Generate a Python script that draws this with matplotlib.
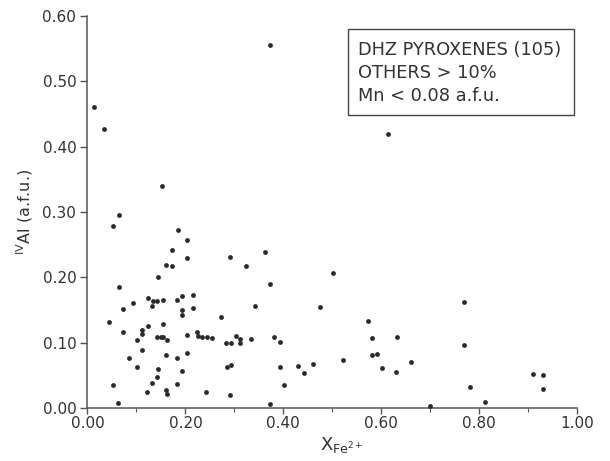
import matplotlib
matplotlib.use("Agg")
import matplotlib.pyplot as plt
from matplotlib.patches import Rectangle
from matplotlib.ticker import MultipleLocator

# X_Fe2+ and IV-Al (a.f.u.) for the DHZ pyroxene analyses
x_fe = [
    0.014, 0.034, 0.153, 0.064, 0.053, 0.184, 0.372, 0.614,
    0.204, 0.173, 0.204, 0.292, 0.363, 0.323, 0.161, 0.173,
    0.144, 0.372, 0.064, 0.342, 0.474, 0.073, 0.094, 0.124,
    0.133, 0.141, 0.155, 0.132, 0.182, 0.193, 0.215, 0.193,
    0.193, 0.215, 0.272, 0.043, 0.073, 0.124, 0.112, 0.112,
    0.102, 0.154, 0.141, 0.151, 0.155, 0.163, 0.204, 0.223,
    0.226, 0.234, 0.245, 0.254, 0.283, 0.293, 0.303, 0.311,
    0.312, 0.333, 0.382, 0.393, 0.112, 0.084, 0.161, 0.183,
    0.204, 0.102, 0.144, 0.142, 0.193, 0.284, 0.294, 0.393,
    0.431, 0.442, 0.461, 0.132, 0.182, 0.053, 0.402, 0.122,
    0.161, 0.163, 0.243, 0.292, 0.062, 0.372,
    0.502, 0.572, 0.581, 0.632, 0.581, 0.592, 0.522, 0.602,
    0.631, 0.661, 0.770, 0.770, 0.781, 0.700, 0.811, 0.910,
    0.930, 0.930,
]
al_iv = [
    0.461, 0.427, 0.340, 0.296, 0.278, 0.273, 0.556, 0.420,
    0.257, 0.242, 0.230, 0.231, 0.239, 0.218, 0.219, 0.217,
    0.201, 0.190, 0.185, 0.156, 0.154, 0.152, 0.161, 0.169,
    0.164, 0.164, 0.165, 0.156, 0.166, 0.172, 0.173, 0.150,
    0.142, 0.153, 0.139, 0.132, 0.116, 0.125, 0.120, 0.113,
    0.104, 0.128, 0.108, 0.108, 0.108, 0.104, 0.112, 0.116,
    0.110, 0.109, 0.108, 0.107, 0.100, 0.100, 0.110, 0.106,
    0.099, 0.105, 0.108, 0.101, 0.089, 0.077, 0.081, 0.077,
    0.084, 0.062, 0.059, 0.047, 0.056, 0.062, 0.066, 0.062,
    0.065, 0.053, 0.068, 0.039, 0.037, 0.035, 0.035, 0.024,
    0.028, 0.022, 0.025, 0.020, 0.007, 0.006,
    0.207, 0.133, 0.107, 0.109, 0.081, 0.083, 0.074, 0.061,
    0.055, 0.070, 0.162, 0.097, 0.032, 0.003, 0.009, 0.052,
    0.050, 0.029,
]

x_ticks = [0.0, 0.2, 0.4, 0.6, 0.8, 1.0]
x_tick_labels = ["0.00", "0.20", "0.40", "0.60", "0.80", "1.00"]
y_ticks = [0.0, 0.1, 0.2, 0.3, 0.4, 0.5, 0.6]
y_tick_labels = ["0.00", "0.10", "0.20", "0.30", "0.40", "0.50", "0.60"]

legend_lines = ["DHZ PYROXENES (105)", "OTHERS > 10%", "Mn < 0.08 a.f.u."]

ink = "#2a2a2a"
axis_col = "#555555"
text_col = "#333333"

plt.rcParams["font.family"] = ["DejaVu Sans"]

fig = plt.figure(figsize=(6.10, 4.61), dpi=100)
ax = fig.add_axes([0.1434, 0.115, 0.8026, 0.850])

ax.scatter(x_fe, al_iv, s=12, color=ink, linewidths=0, zorder=3, clip_on=False)

ax.set_xlim(0, 1.0)
ax.set_ylim(0, 0.6)
ax.set_xticks(x_ticks)
ax.set_xticklabels(x_tick_labels)
ax.set_yticks(y_ticks)
ax.set_yticklabels(y_tick_labels)
ax.xaxis.set_minor_locator(MultipleLocator(0.1))

for side in ("top", "right"):
    ax.spines[side].set_visible(False)
for side in ("left", "bottom"):
    ax.spines[side].set_color(axis_col)
    ax.spines[side].set_linewidth(1.1)

ax.tick_params(axis="y", which="major", direction="out", length=5,
               width=1.0, color=axis_col, labelsize=11, labelcolor=text_col,
               pad=3)
ax.tick_params(axis="x", which="major", direction="out", length=4,
               width=1.0, color=axis_col, labelsize=11, labelcolor=text_col,
               pad=1.5)
ax.tick_params(axis="x", which="minor", direction="out", length=3,
               width=0.8, color=axis_col)

ax.set_ylabel(r"$^{\mathregular{IV}}$Al (a.f.u.)", fontsize=11.5,
              color=text_col)
ax.yaxis.set_label_coords(-0.108, 0.5)
ax.set_xlabel(r"X$_{\mathregular{Fe}^{\mathregular{2+}}}$", fontsize=13,
              color=text_col)
ax.xaxis.set_label_coords(0.52, -0.068)

# framed note in the upper right
ax.add_patch(Rectangle((0.532, 0.747), 0.461, 0.220, transform=ax.transAxes,
                       facecolor="white", edgecolor="#444444", linewidth=1.0,
                       zorder=4, clip_on=False))
for line, yc in zip(legend_lines, [0.913, 0.855, 0.795]):
    ax.text(0.552, yc, line, transform=ax.transAxes, ha="left", va="center",
            fontsize=12.8, color=text_col, zorder=5)

fig.savefig("out.png", dpi=100, facecolor="white")
